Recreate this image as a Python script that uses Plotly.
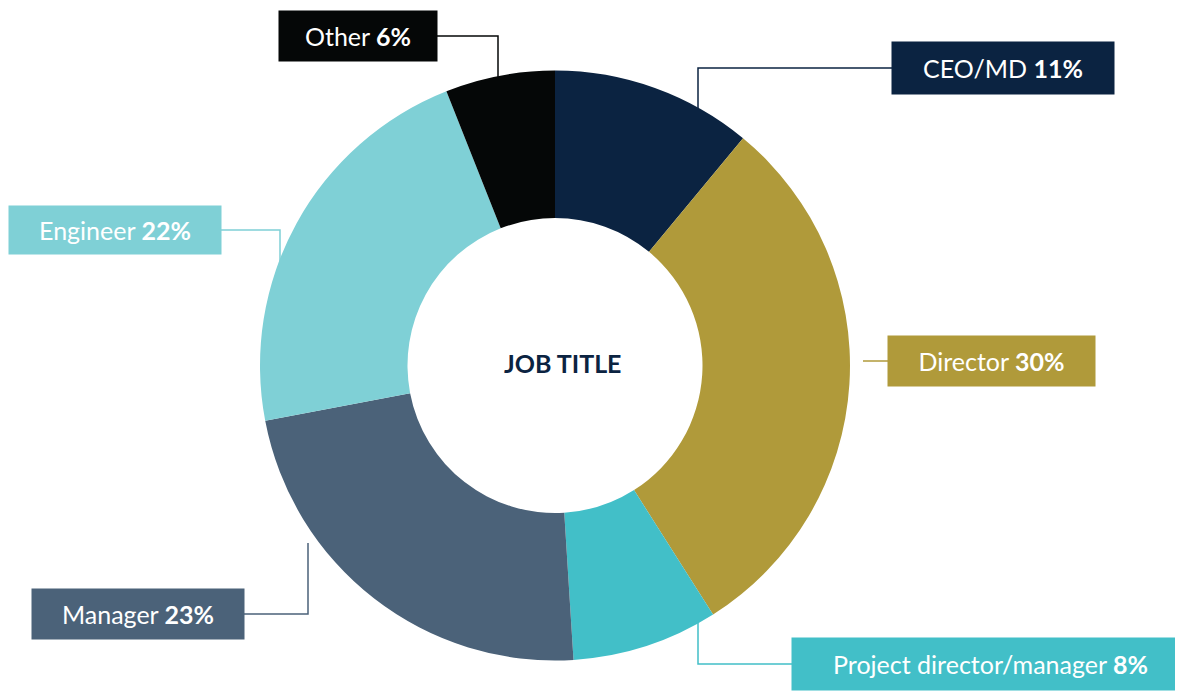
import plotly.graph_objects as go

W, H = 1183, 699

labels = ["CEO/MD", "Director", "Project director/manager", "Manager", "Engineer", "Other"]
values = [11, 30, 8, 23, 22, 6]
colors = ["#0b2341", "#b09a3a", "#42bfc8", "#4b6279", "#7fd0d6", "#050707"]

def px(x, y):
    return x / W, 1 - y / H

fig = go.Figure(go.Pie(
    labels=labels, values=values, sort=False, direction="clockwise", rotation=0,
    hole=0.5, marker=dict(colors=colors, line=dict(color="white", width=0)),
    textinfo="none", hoverinfo="label+percent",
    domain=dict(x=[252 / W, 842 / W], y=[1 - 655 / H, 1 - 60 / H]),
))

# label boxes: (center x, center y, width, height) in pixels
boxes = [(995, 60, 220, 50), (983, 353, 205, 48), (982, 656, 395, 50),
         (130, 606, 210, 48), (107, 222, 210, 46), (350, 28, 156, 48)]
# leader lines as pixel polylines
leaders = [[(690, 115), (690, 60), (885, 60)],
           [(855, 353), (882, 353)],
           [(690, 615), (690, 656), (785, 656)],
           [(300, 535), (300, 606), (235, 606)],
           [(272, 265), (272, 222), (212, 222)],
           [(490, 85), (490, 28), (428, 28)]]

for lab, val, col, (cx, cy, bw, bh), pts in zip(labels, values, colors, boxes, leaders):
    x, y = px(cx, cy)
    fig.add_annotation(x=x, y=y, xref="paper", yref="paper", showarrow=False,
                       xanchor="center", yanchor="middle",
                       text=f"{lab} <b>{val}%</b>", bgcolor=col, width=bw, height=bh,
                       font=dict(family="Lato", size=25, color="white"))
    path = "M " + " L ".join(f"{px(a, b)[0]},{px(a, b)[1]}" for a, b in pts)
    fig.add_shape(type="path", path=path, xref="paper", yref="paper",
                  line=dict(color=col, width=1.5), layer="below")

x, y = px(555, 355)
fig.add_annotation(x=x, y=y, xref="paper", yref="paper", showarrow=False,
                   xanchor="center", yanchor="middle",
                   text="<b>JOB TITLE</b>", font=dict(family="Lato", size=25, color="#0b2341"))

fig.update_layout(width=W, height=H, margin=dict(l=0, r=0, t=0, b=0),
                  showlegend=False, paper_bgcolor="white")
fig.write_html("out.html")
